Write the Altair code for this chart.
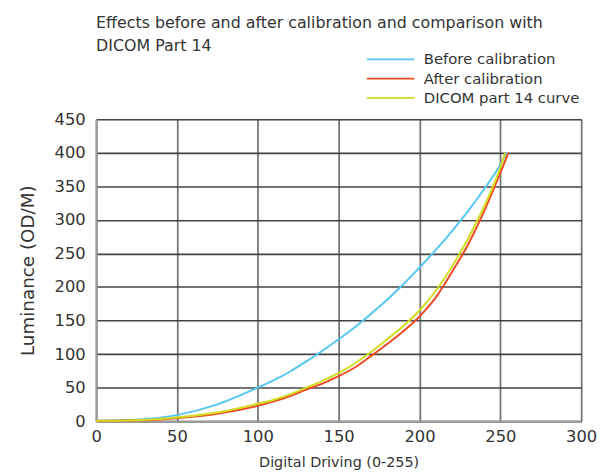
import altair as alt
import pandas as pd

# digital driving levels where values were read
x_before = [0, 25, 50, 75, 100, 110, 120, 130, 140, 150, 160, 170, 180, 190, 200, 210, 220, 230, 240, 250, 254]
y_before = [0.5, 2, 9, 25, 50, 61, 74, 89, 105, 122, 140, 160, 181, 204, 229, 255, 283, 313, 346, 382, 400]

x_after = [0, 25, 50, 75, 100, 110, 120, 130, 140, 150, 160, 170, 180, 190, 200, 210, 220, 230, 240, 250, 255]
y_after = [0.5, 1.2, 4.5, 11, 23, 29.5, 37.5, 47, 56, 67, 80, 97, 115, 134, 156, 184, 222, 263, 313, 370, 400]

x_dicom = [0, 25, 50, 75, 100, 110, 120, 130, 140, 150, 160, 170, 180, 190, 200, 210, 220, 230, 240, 250, 253]
y_dicom = [0.5, 1.5, 5.5, 13, 26, 32, 40, 50, 60, 72, 86, 103, 122, 142, 165, 194, 230, 272, 320, 378, 400]

series_names = ["Before calibration", "After calibration", "DICOM part 14 curve"]
series_colors = ["#55C6F1", "#EE4A24", "#D2DC1C"]

rows = []
for name, xs, ys in [(series_names[0], x_before, y_before),
                     (series_names[1], x_after, y_after),
                     (series_names[2], x_dicom, y_dicom)]:
    for xv, yv in zip(xs, ys):
        rows.append({"series": name, "x": xv, "y": yv})
df = pd.DataFrame(rows)

FONT = "DejaVu Sans"

chart = alt.Chart(df).mark_line(strokeWidth=2, interpolate="monotone").encode(
    x=alt.X("x:Q", scale=alt.Scale(domain=[0, 300], nice=False),
            axis=alt.Axis(values=[0, 50, 100, 150, 200, 250, 300], title="Digital Driving (0-255)",
                          grid=True, gridColor="#777777", gridWidth=1.8, ticks=False,
                          domainColor="#999999", domainWidth=2, labelFlush=False,
                          labelFontSize=16.5, labelColor="#333333", labelFont=FONT, labelPadding=8,
                          titleFontSize=14.5, titleColor="#333333", titleFont=FONT,
                          titleFontWeight="normal", titlePadding=10)),
    y=alt.Y("y:Q", scale=alt.Scale(domain=[0, 450], nice=False),
            axis=alt.Axis(values=[0, 50, 100, 150, 200, 250, 300, 350, 400, 450], title="Luminance (OD/M)",
                          grid=True, gridColor="#444444", gridWidth=1.6, ticks=False,
                          domainColor="#999999", domainWidth=2, labelFlush=False,
                          labelFontSize=16.5, labelColor="#333333", labelFont=FONT, labelPadding=11,
                          titleFontSize=18.5, titleColor="#333333", titleFont=FONT,
                          titleFontWeight="normal", titlePadding=17)),
    color=alt.Color("series:N", sort=series_names,
                    scale=alt.Scale(domain=series_names, range=series_colors),
                    legend=alt.Legend(title=None, orient="none", legendX=290, legendY=-68,
                                      symbolType="M-4.8,0H4.8", symbolSize=100, symbolStrokeWidth=1.8,
                                      labelOffset=26, labelFontSize=15, labelFont=FONT,
                                      labelColor="#333333", rowPadding=3.5, padding=0,
                                      labelLimit=400)),
).properties(
    width=490,
    height=305,
    title=alt.TitleParams(text=["Effects before and after calibration and comparison with", "DICOM Part 14"],
                          anchor="start", frame="group", fontSize=16, font=FONT, color="#333333",
                          fontWeight="normal", lineHeight=23, offset=1, dy=3),
    autosize=alt.AutoSizeParams(type="none"),
    padding={"left": 89, "top": 110, "right": 18, "bottom": 50},
).configure_view(
    stroke="#aaaaaa", strokeWidth=2
).configure(background="white")

chart.save("out.html", embed_options={"renderer": "svg", "actions": False})
